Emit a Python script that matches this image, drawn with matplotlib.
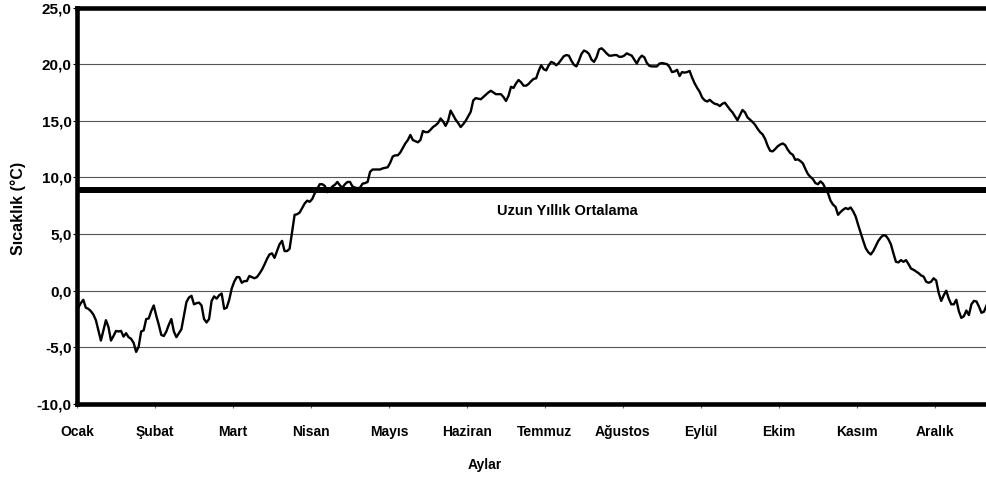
import numpy as np
import matplotlib
matplotlib.use('Agg')
import matplotlib.pyplot as plt

plt.rcParams['font.family'] = ['Liberation Sans', 'DejaVu Sans']

# Daily mean temperature (°C), 1 Jan onwards
sicaklik = [
    -1.5, -1.1, -0.8, -1.5, -1.6, -1.8, -2.1, -2.6, -3.5, -4.4,
    -3.5, -2.6, -3.2, -4.4, -4.0, -3.55, -3.6, -3.55, -4.05, -3.75,
    -4.1, -4.25, -4.6, -5.4, -4.95, -3.6, -3.5, -2.5, -2.45, -1.8,
    -1.3, -2.2, -3.0, -3.9, -4.0, -3.6, -3.0, -2.5, -3.6, -4.1,
    -3.75, -3.4, -2.2, -1.0, -0.6, -0.45, -1.2, -1.1, -1.05, -1.3,
    -2.5, -2.8, -2.5, -0.9, -0.5, -0.7, -0.4, -0.25, -1.6, -1.5,
    -0.8, 0.2, 0.8, 1.2, 1.2, 0.7, 0.85, 0.85, 1.3, 1.2,
    1.1, 1.2, 1.5, 1.85, 2.3, 2.8, 3.2, 3.3, 2.9, 3.5,
    4.1, 4.4, 3.5, 3.5, 3.7, 5.2, 6.7, 6.75, 6.9, 7.3,
    7.7, 7.95, 7.85, 8.1, 8.6, 9.0, 9.4, 9.4, 9.25, 8.7,
    8.9, 9.2, 9.35, 9.6, 9.3, 9.1, 9.4, 9.6, 9.6, 9.2,
    9.1, 9.05, 9.1, 9.45, 9.5, 9.6, 10.5, 10.7, 10.7, 10.7,
    10.7, 10.8, 10.85, 10.9, 11.3, 11.85, 11.95, 11.95, 12.2, 12.6,
    13.0, 13.3, 13.75, 13.3, 13.2, 13.1, 13.3, 14.1, 14.0, 14.0,
    14.2, 14.45, 14.6, 14.8, 15.2, 14.95, 14.55, 15.0, 15.9, 15.5,
    15.1, 14.8, 14.45, 14.7, 15.0, 15.4, 15.8, 16.8, 17.0, 16.95,
    16.9, 17.1, 17.3, 17.5, 17.65, 17.5, 17.35, 17.35, 17.35, 17.1,
    16.75, 17.2, 18.0, 17.9, 18.3, 18.6, 18.4, 18.1, 18.1, 18.25,
    18.5, 18.7, 18.75, 19.4, 19.9, 19.55, 19.45, 19.9, 20.2, 20.1,
    19.9, 20.1, 20.4, 20.7, 20.8, 20.75, 20.3, 19.95, 19.8, 20.3,
    20.9, 21.2, 21.1, 20.9, 20.4, 20.2, 20.6, 21.3, 21.4, 21.2,
    20.95, 20.75, 20.75, 20.8, 20.8, 20.65, 20.65, 20.75, 20.95, 20.85,
    20.75, 20.4, 20.05, 20.5, 20.75, 20.6, 20.1, 19.85, 19.8, 19.8,
    19.8, 20.05, 20.1, 20.05, 20.0, 19.75, 19.3, 19.35, 19.5, 18.95,
    19.3, 19.25, 19.3, 19.4, 18.8, 18.3, 17.9, 17.55, 17.05, 16.8,
    16.7, 16.85, 16.65, 16.5, 16.45, 16.3, 16.5, 16.6, 16.3, 16.0,
    15.75, 15.4, 15.05, 15.5, 15.95, 15.75, 15.3, 15.1, 14.9, 14.65,
    14.3, 14.0, 13.8, 13.4, 12.8, 12.35, 12.3, 12.5, 12.75, 12.9,
    13.0, 12.85, 12.45, 12.15, 12.0, 11.55, 11.6, 11.45, 11.25, 10.75,
    10.3, 10.05, 9.85, 9.5, 9.4, 9.65, 9.45, 9.0, 8.6, 7.95,
    7.6, 7.4, 6.7, 6.95, 7.15, 7.3, 7.2, 7.35, 7.0, 6.55,
    5.8, 5.1, 4.4, 3.75, 3.4, 3.2, 3.5, 3.95, 4.4, 4.7,
    4.9, 4.85, 4.55, 4.1, 3.3, 2.55, 2.5, 2.7, 2.55, 2.7,
    2.35, 1.95, 1.85, 1.7, 1.55, 1.35, 1.25, 0.8, 0.7, 0.8,
    1.1, 0.9, -0.2, -0.9, -0.4, 0.0, -0.7, -1.2, -1.2, -0.8,
    -1.8, -2.4, -2.25, -1.75, -2.15, -1.2, -0.9, -0.95, -1.4, -1.95,
    -1.85, -1.3,
]
aylar = ['Ocak', 'Şubat', 'Mart', 'Nisan', 'Mayıs', 'Haziran', 'Temmuz',
         'Ağustos', 'Eylül', 'Ekim', 'Kasım', 'Aralık']
uzun_yillik_ortalama = 8.9
y_ticks = [-10, -5, 0, 5, 10, 15, 20, 25]

fig = plt.figure(figsize=(9.86, 4.79), dpi=100)
ax = fig.add_axes([77 / 986, 75 / 479, 909 / 986, 396.5 / 479])

x = np.arange(len(sicaklik)) + 0.5
ax.axhline(uzun_yillik_ortalama, color='black', lw=4.3, zorder=2)
ax.plot(x, sicaklik, color='black', lw=1.7, zorder=3)
ax.text(194.8, 7.0, 'Uzun Yıllık Ortalama', ha='center', va='center',
        fontsize=10.5, fontweight='bold')

ax.set_xlim(0, 361.3)
ax.set_ylim(-10, 25)
ax.set_xticks(np.arange(len(aylar)) * 31)
ax.set_xticklabels(aylar, fontsize=10, fontweight='bold')
ax.set_yticks(y_ticks)
ax.set_yticklabels([f'{v:.1f}'.replace('.', ',') for v in y_ticks],
                   fontsize=11, fontweight='bold')
ax.tick_params(axis='x', length=3, width=0.8, color='#666666', pad=12)
ax.tick_params(axis='y', length=3, width=0.8, pad=1)
ax.yaxis.grid(True, color='#555555', lw=0.8)
ax.set_axisbelow(True)

for side in ['left', 'top', 'bottom']:
    ax.spines[side].set_linewidth(3.3)
ax.spines['right'].set_visible(False)

fig.text(18 / 986, 1 - 208 / 479, 'Sıcaklık (°C)', rotation=90,
         ha='center', va='center', fontsize=11.5, fontweight='bold')
fig.text(485 / 986, 1 - 465 / 479, 'Aylar', ha='center', va='center',
         fontsize=10, fontweight='bold')

plt.savefig('out.png', dpi=100)
